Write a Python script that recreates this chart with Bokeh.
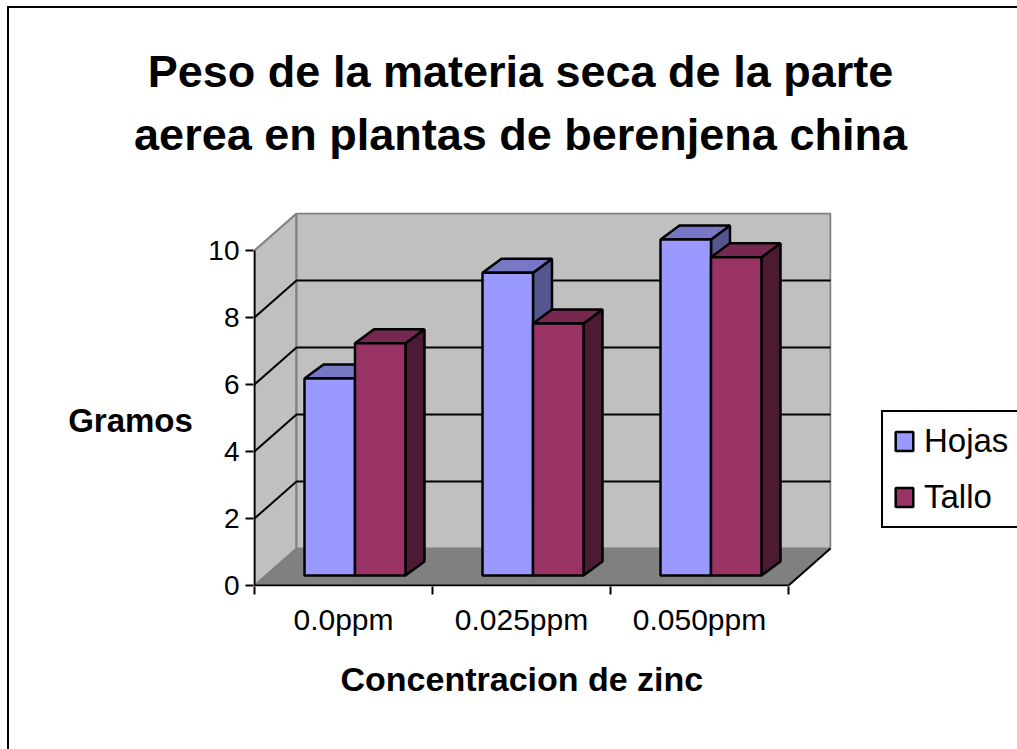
from bokeh.plotting import figure
from bokeh.models import (FixedTicker, Label, Legend, LegendItem, Range1d, Title)
from bokeh.embed import file_html
from bokeh.resources import INLINE

title_lines = ["Peso de la materia seca de la parte", "aerea en plantas de berenjena china"]
x_title = "Concentracion de zinc"
y_title = "Gramos"
categories = ["0.0ppm", "0.025ppm", "0.050ppm"]
hojas = [5.88, 9.04, 10.03]
tallo = [6.93, 7.52, 9.5]
y_ticks = [0, 2, 4, 6, 8, 10]
y_max = 10

FONT = "Liberation Sans"
PX_X, PX_Y = 178.0, 33.5          # pixels per category / per value unit
WALL_DX, WALL_DY = 42 / PX_X, 37 / PX_Y
BAR_DX, BAR_DY = 19 / PX_X, 14 / PX_Y
BAR_X0, BAR_W = 50 / PX_X, 50.5 / PX_X
BASE = 10 / PX_Y
n = len(categories)

p = figure(width=1008, height=741, output_backend="svg", toolbar_location=None,
           frame_width=578, frame_height=374,
           min_border_left=244, min_border_right=186, min_border_top=204, min_border_bottom=163,
           x_range=Range1d(-1 / PX_X, 577 / PX_X), y_range=Range1d(-1 / PX_Y, 373 / PX_Y),
           outline_line_color=None, border_fill_color="white", background_fill_color="white")
p.styles = {"border-left": "2px solid black", "border-top": "2px solid black",
            "margin-left": "7px", "margin-top": "6px"}
p.grid.visible = False

# walls and floor
wall = "#C0C0C0"
p.patch([0, WALL_DX, WALL_DX, 0], [0, WALL_DY, y_max + WALL_DY, y_max], fill_color=wall,
        line_color="#808080", line_width=2)
p.patch([WALL_DX, n + WALL_DX, n + WALL_DX, WALL_DX], [WALL_DY, WALL_DY, y_max + WALL_DY, y_max + WALL_DY],
        fill_color=wall, line_color="#808080", line_width=2)
p.patch([0, n, n + WALL_DX, WALL_DX], [0, 0, WALL_DY, WALL_DY], fill_color="#808080", line_color=None)
p.segment(n, 0, n + WALL_DX, WALL_DY, line_color="black", line_width=2)

# gridlines
grid_v = [v for v in y_ticks if 0 < v < y_max]
p.multi_line([[0, WALL_DX, n + WALL_DX] for _ in grid_v],
             [[v, v + WALL_DY, v + WALL_DY] for v in grid_v], line_color="black", line_width=2)


def bars(values, slot, front, top, side):
    l = [i + BAR_X0 + slot * BAR_W for i in range(n)]
    r = [a + BAR_W for a in l]
    t = [BASE + v for v in values]
    p.patches([[b, b + BAR_DX, b + BAR_DX, b] for b in r],
              [[BASE, BASE + BAR_DY, y + BAR_DY, y] for y in t],
              fill_color=side, line_color="black", line_width=2.5)
    p.patches([[a, b, b + BAR_DX, a + BAR_DX] for a, b in zip(l, r)],
              [[y, y, y + BAR_DY, y + BAR_DY] for y in t],
              fill_color=top, line_color="black", line_width=2.5)
    return p.quad(left=l, right=r, bottom=BASE, top=t, fill_color=front, line_color="black", line_width=2.5)


r1 = bars(hojas, 0, "#9999FF", "#7777C6", "#555590")
r2 = bars(tallo, 1, "#993366", "#772850", "#4D1A33")

# axis rules, only as long as the value and category spans
p.segment(0, 0, n, 0, line_color="black", line_width=2)
p.segment(0, 0, 0, y_max, line_color="black", line_width=2)

# axes
xa = p.xaxis[0]
xa.ticker = FixedTicker(ticks=[i + 0.5 for i in range(n)], minor_ticks=list(range(n + 1)))
xa.major_label_overrides = {i + 0.5: c for i, c in enumerate(categories)}
xa.major_tick_out = 0
xa.major_tick_in = 0
xa.minor_tick_out = 8
xa.minor_tick_in = 0
xa.minor_tick_line_width = 2
xa.axis_line_color = None
xa.major_label_text_font = FONT
xa.major_label_text_font_size = "30px"
xa.major_label_text_color = "black"
xa.major_label_standoff = 8

ya = p.yaxis[0]
ya.ticker = FixedTicker(ticks=y_ticks, minor_ticks=[])
ya.major_tick_out = 8
ya.major_tick_in = 0
ya.major_tick_line_width = 2
ya.minor_tick_out = 0
ya.axis_line_color = None
ya.major_label_text_font = FONT
ya.major_label_text_font_size = "28px"
ya.major_label_text_color = "black"
ya.major_label_standoff = 6

# x axis title, placed in the panel below the axis
p.add_layout(Title(text=x_title, align="left", offset=87, standoff=39, text_font=FONT, text_font_style="bold",
                   text_font_size="34px", text_color="black"), "below")

# y axis title in the panel left of the axis
p.add_layout(Label(x=50, y=166, x_units="screen", y_units="screen", text=y_title, text_font=FONT,
                   text_align="center", text_baseline="middle",
                   text_font_style="bold", text_font_size="33px", text_color="black"), "left")

# chart title, two lines in panels above the frame
for line, ly in zip(reversed(title_lines), [78, 90]):
    p.add_layout(Label(x=267, y=ly, x_units="screen", y_units="screen", text=line, text_font=FONT,
                       text_align="center", text_baseline="middle",
                       text_font_style="bold", text_font_size="45px", text_color="black"), "above")

# legend
legend = Legend(items=[LegendItem(label="Hojas", renderers=[r1]), LegendItem(label="Tallo", renderers=[r2])],
                location=(50, 58), orientation="vertical",
                label_text_font=FONT, label_text_font_size="33px", label_text_color="black",
                glyph_width=22, glyph_height=24, label_standoff=9, spacing=18, padding=10, margin=0,
                border_line_color="black", border_line_width=2, border_line_alpha=1,
                background_fill_color="white", background_fill_alpha=1)
p.add_layout(legend, "right")

open("out.html", "w").write(file_html(p, INLINE))
